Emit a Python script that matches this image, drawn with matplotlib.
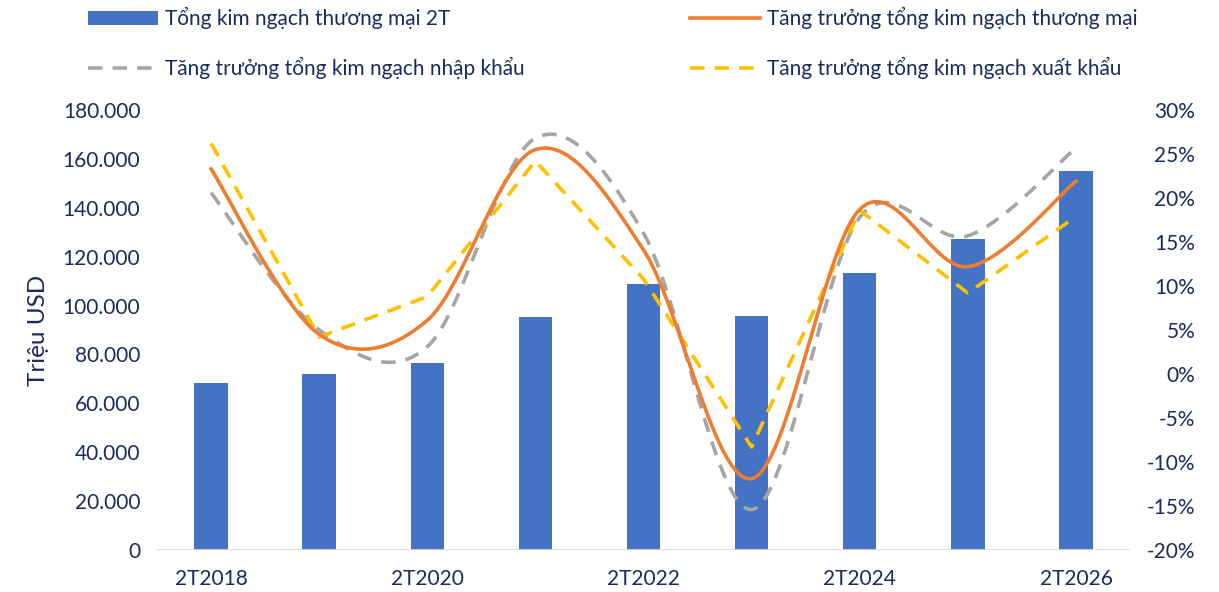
import numpy as np
import matplotlib.pyplot as plt
from matplotlib.ticker import FuncFormatter, MultipleLocator

plt.rcParams['font.family'] = ['Lato', 'DejaVu Sans']

# du lieu
nam = ['2T2018', '2T2019', '2T2020', '2T2021', '2T2022', '2T2023', '2T2024', '2T2025', '2T2026']
kim_ngach = [68500, 71900, 76400, 95500, 108800, 95700, 113200, 127100, 155100]
tang_truong_tm = [23.3, 4.5, 6.1, 25.5, 14.1, -11.9, 18.7, 12.2, 21.9]
tang_truong_nk = [20.6, 5.0, 3.1, 26.8, 16.0, -15.4, 17.8, 15.7, 25.7]
tang_truong_xk = [26.2, 4.2, 8.8, 24.2, 10.8, -8.3, 18.6, 9.2, 17.9]

mau_chu = '#1b2a5c'


def duong_muot(x, y, n=40):
    # duong cong kieu Excel (Catmull-Rom qua cac diem)
    x = np.asarray(x, float)
    y = np.asarray(y, float)
    px = np.concatenate([[x[0]], x, [x[-1]]])
    py = np.concatenate([[y[0]], y, [y[-1]]])
    xs, ys = [], []
    t = np.linspace(0, 1, n)
    for i in range(1, len(px) - 2):
        p0 = np.array([px[i], py[i]])
        p3 = np.array([px[i + 1], py[i + 1]])
        c1 = p0 + (np.array([px[i + 1], py[i + 1]]) - np.array([px[i - 1], py[i - 1]])) / 6
        c2 = p3 - (np.array([px[i + 2], py[i + 2]]) - p0) / 6
        b = ((1 - t) ** 3)[:, None] * p0 + (3 * (1 - t) ** 2 * t)[:, None] * c1 \
            + (3 * (1 - t) * t ** 2)[:, None] * c2 + (t ** 3)[:, None] * p3
        xs.extend(b[:, 0])
        ys.extend(b[:, 1])
    return np.array(xs), np.array(ys)


fig = plt.figure(figsize=(12.19, 5.92), dpi=100)
ax = fig.add_axes([157 / 1219, 1 - 550 / 592, (1130 - 157) / 1219, 440 / 592])
ax2 = ax.twinx()

x = np.arange(len(nam))
cot = ax.bar(x, kim_ngach, width=0.31, color='#4472C4', zorder=2,
             label='Tổng kim ngạch thương mại 2T')

ax.set_xlim(-0.5, len(nam) - 0.5)
ax.set_ylim(0, 180000)
ax.yaxis.set_major_locator(MultipleLocator(20000))
ax.yaxis.set_major_formatter(FuncFormatter(lambda v, p: f'{v:,.0f}'.replace(',', '.')))
ax.set_xticks(x[::2])
ax.set_xticklabels(nam[::2])
ax.set_ylabel('Triệu USD', fontsize=17.5, color=mau_chu, labelpad=10)

ax2.set_ylim(-20, 30)
ax2.yaxis.set_major_locator(MultipleLocator(5))
ax2.yaxis.set_major_formatter(FuncFormatter(lambda v, p: f'{v:.0f}%'))

for a in (ax, ax2):
    for s in ('top', 'left', 'right', 'bottom'):
        a.spines[s].set_visible(False)
    a.tick_params(length=0, labelsize=15, colors=mau_chu)
ax.axhline(0, color='#d9d9d9', lw=1.3, zorder=3)
ax.tick_params(axis='x', pad=14)
ax.tick_params(axis='y', pad=12)
for lab in ax2.get_yticklabels():
    lab.set_horizontalalignment('right')
ax2.yaxis.set_tick_params(pad=47)

lw = 2.6
xs, ys = duong_muot(x, tang_truong_nk)
l_nk, = ax2.plot(xs, ys, color='#A5A5A5', lw=lw, dashes=(4, 2.8),
                 label='Tăng trưởng tổng kim ngạch nhập khẩu', zorder=3)
# xuat khau: duong gap khuc, khong lam muot
l_xk, = ax2.plot(x, tang_truong_xk, color='#FFC000', lw=lw, dashes=(4, 2.8),
                 label='Tăng trưởng tổng kim ngạch xuất khẩu', zorder=4)
xs, ys = duong_muot(x, tang_truong_tm)
l_tm, = ax2.plot(xs, ys, color='#ED7D31', lw=lw,
                 label='Tăng trưởng tổng kim ngạch thương mại', zorder=5)

kieu_chu_giai = dict(loc='upper left', frameon=False, fontsize=15, handlelength=3.35,
                     handletextpad=0.35, labelspacing=1.35, borderpad=0,
                     borderaxespad=0, labelcolor=mau_chu)
fig.legend([cot, l_nk], [cot.get_label(), l_nk.get_label()],
           bbox_to_anchor=(88 / 1219, 1 - 7 / 592), **kieu_chu_giai)
fig.legend([l_tm, l_xk], [l_tm.get_label(), l_xk.get_label()],
           bbox_to_anchor=(690 / 1219, 1 - 7 / 592), **kieu_chu_giai)

fig.savefig('out.png', dpi=100)
